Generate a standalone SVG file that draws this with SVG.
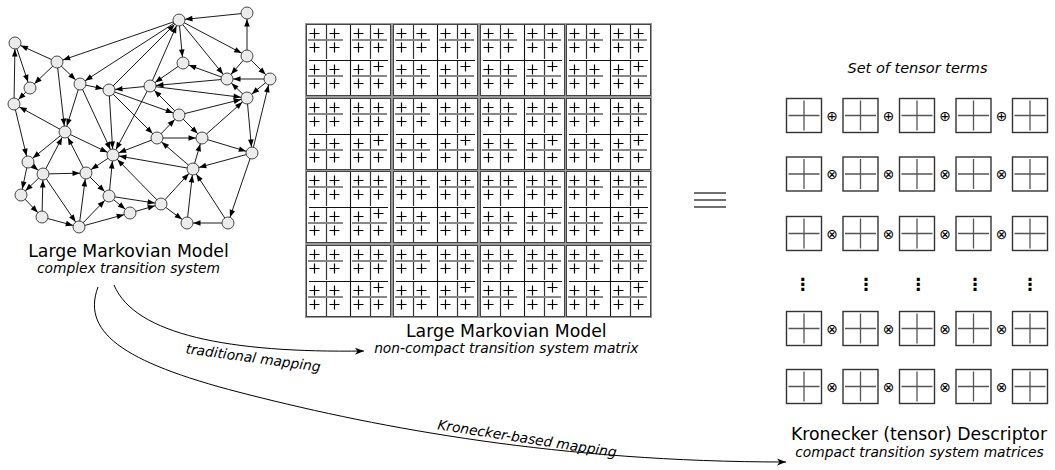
<svg xmlns="http://www.w3.org/2000/svg" width="1055" height="470" viewBox="0 0 1055 470">
<style>
.e{stroke:#000;stroke-width:0.9;fill:none;marker-end:url(#ah)}
.c{stroke:#000;stroke-width:1;fill:none;marker-end:url(#ab)}
.n{fill:#ebebeb;stroke:#333;stroke-width:0.9}
.t{font-family:"DejaVu Sans",sans-serif;font-size:17.3px;fill:#000;text-anchor:middle}
.i{font-family:"DejaVu Sans",sans-serif;font-style:italic;font-size:13.8px;fill:#000;text-anchor:middle}
.op{font-family:"DejaVu Sans",sans-serif;font-size:14px;text-anchor:middle;fill:#000}
.dt{font-family:"DejaVu Sans",sans-serif;font-size:17px;text-anchor:middle;fill:#000;font-weight:bold}
.mv{stroke:#333;stroke-width:1.2}
.mh{stroke:#888;stroke-width:2}
.pl{stroke:#000;stroke-width:1.2;fill:none}
.bx{fill:#fff;stroke:#333;stroke-width:1.4}
.cx{stroke:#555;stroke-width:1.3}
</style>
<defs>
<marker id="ah" markerUnits="userSpaceOnUse" viewBox="0 0 20 10" refX="20" refY="5" markerWidth="20" markerHeight="10" orient="auto"><path d="M13.8,5 L6.5,2.2 L6.5,7.8 Z" fill="#000"/></marker>
<marker id="ab" markerUnits="userSpaceOnUse" viewBox="-10 -5 12 10" refX="0" refY="0" markerWidth="12" markerHeight="10" orient="auto"><path d="M0,0 L-9,-3.5 L-6.5,0 L-9,3.5 Z" fill="#000"/></marker>
<g id="sb">
<line class="mv" x1="20.5" y1="1" x2="20.5" y2="35"/>
<line class="mh" x1="2" y1="16" x2="37" y2="16"/>
<path class="pl" d="M3.5,9.5h10M8.5,4.5v10M23.5,9.5h10M28.5,4.5v10M3.5,23.5h10M8.5,18.5v10M23.5,23.5h10M28.5,18.5v10"/>
</g>
<g id="sbB">
<line class="mv" x1="20.5" y1="1" x2="20.5" y2="35"/>
<line class="mh" x1="2" y1="16" x2="37" y2="16"/>
<path class="pl" d="M3.5,9.5h10M8.5,4.5v10M23.5,6.5h10M28.5,1.5v10M3.5,23.5h10M8.5,18.5v10M23.5,23.5h10M28.5,18.5v10"/>
</g>
<g id="bk">
<rect x="0.5" y="0.5" width="84" height="71" fill="#fff" stroke="#444" stroke-width="1"/>
<line x1="44.5" y1="1" x2="44.5" y2="71" stroke="#111" stroke-width="1.1"/>
<line x1="3" y1="36.5" x2="82" y2="36.5" stroke="#111" stroke-width="1.1"/>
<use href="#sb" x="0" y="0"/>
<use href="#sb" x="44" y="0"/>
<use href="#sb" x="0" y="36"/>
<use href="#sbB" x="44" y="36"/>
</g>
<g id="tb"><rect class="bx" x="0" y="0" width="35" height="34"/><path class="cx" d="M2,17H33M17.5,2V32"/></g>
</defs>
<rect width="1055" height="470" fill="#fff"/>

<g id="connectors">
<line class="e" x1="179" y1="20" x2="57" y2="62"/>
<line class="e" x1="179" y1="20" x2="80" y2="84"/>
<line class="e" x1="109" y1="90" x2="179" y2="20"/>
<line class="e" x1="150" y1="86" x2="179" y2="20"/>
<line class="e" x1="247" y1="13" x2="179" y2="20"/>
<line class="e" x1="247" y1="56" x2="247" y2="13"/>
<line class="e" x1="179" y1="20" x2="183" y2="63"/>
<line class="e" x1="179" y1="20" x2="247" y2="56"/>
<line class="e" x1="179" y1="20" x2="227" y2="79"/>
<line class="e" x1="247" y1="56" x2="227" y2="79"/>
<line class="e" x1="247" y1="56" x2="270" y2="79"/>
<line class="e" x1="227" y1="79" x2="183" y2="63"/>
<line class="e" x1="270" y1="79" x2="227" y2="79"/>
<line class="e" x1="227" y1="79" x2="150" y2="86"/>
<line class="e" x1="183" y1="63" x2="150" y2="86"/>
<line class="e" x1="150" y1="86" x2="247" y2="98"/>
<line class="e" x1="270" y1="79" x2="247" y2="98"/>
<line class="e" x1="247" y1="98" x2="227" y2="79"/>
<line class="e" x1="179" y1="115" x2="150" y2="86"/>
<line class="e" x1="179" y1="115" x2="247" y2="98"/>
<line class="e" x1="252" y1="153" x2="270" y2="79"/>
<line class="e" x1="247" y1="98" x2="252" y2="153"/>
<line class="e" x1="202" y1="138" x2="247" y2="98"/>
<line class="e" x1="57" y1="62" x2="15" y2="43"/>
<line class="e" x1="15" y1="43" x2="30" y2="88"/>
<line class="e" x1="14" y1="104" x2="15" y2="43"/>
<line class="e" x1="57" y1="62" x2="30" y2="88"/>
<line class="e" x1="57" y1="62" x2="80" y2="84"/>
<line class="e" x1="57" y1="62" x2="65" y2="132"/>
<line class="e" x1="80" y1="84" x2="65" y2="132"/>
<line class="e" x1="30" y1="88" x2="14" y2="104"/>
<line class="e" x1="80" y1="84" x2="109" y2="90"/>
<line class="e" x1="150" y1="86" x2="109" y2="90"/>
<line class="e" x1="109" y1="90" x2="179" y2="115"/>
<line class="e" x1="109" y1="90" x2="157" y2="138"/>
<line class="e" x1="65" y1="132" x2="14" y2="104"/>
<line class="e" x1="14" y1="104" x2="28" y2="162"/>
<line class="e" x1="80" y1="84" x2="113" y2="155"/>
<line class="e" x1="109" y1="90" x2="113" y2="155"/>
<line class="e" x1="150" y1="86" x2="113" y2="155"/>
<line class="e" x1="157" y1="138" x2="179" y2="115"/>
<line class="e" x1="179" y1="115" x2="202" y2="138"/>
<line class="e" x1="157" y1="138" x2="202" y2="138"/>
<line class="e" x1="202" y1="138" x2="252" y2="153"/>
<line class="e" x1="252" y1="153" x2="193" y2="169"/>
<line class="e" x1="193" y1="169" x2="202" y2="138"/>
<line class="e" x1="193" y1="169" x2="157" y2="138"/>
<line class="e" x1="252" y1="153" x2="228" y2="223"/>
<line class="e" x1="228" y1="223" x2="187" y2="223"/>
<line class="e" x1="228" y1="223" x2="193" y2="169"/>
<line class="e" x1="187" y1="223" x2="193" y2="169"/>
<line class="e" x1="161" y1="204" x2="193" y2="169"/>
<line class="e" x1="161" y1="204" x2="187" y2="223"/>
<line class="e" x1="193" y1="169" x2="113" y2="155"/>
<line class="e" x1="157" y1="138" x2="113" y2="155"/>
<line class="e" x1="161" y1="204" x2="113" y2="155"/>
<line class="e" x1="65" y1="132" x2="28" y2="162"/>
<line class="e" x1="65" y1="132" x2="113" y2="155"/>
<line class="e" x1="43" y1="174" x2="65" y2="132"/>
<line class="e" x1="86" y1="173" x2="65" y2="132"/>
<line class="e" x1="113" y1="155" x2="86" y2="173"/>
<line class="e" x1="43" y1="174" x2="86" y2="173"/>
<line class="e" x1="28" y1="162" x2="43" y2="174"/>
<line class="e" x1="28" y1="162" x2="21" y2="195"/>
<line class="e" x1="43" y1="174" x2="21" y2="195"/>
<line class="e" x1="42" y1="217" x2="43" y2="174"/>
<line class="e" x1="43" y1="174" x2="79" y2="227"/>
<line class="e" x1="21" y1="195" x2="42" y2="217"/>
<line class="e" x1="42" y1="217" x2="79" y2="227"/>
<line class="e" x1="79" y1="227" x2="86" y2="173"/>
<line class="e" x1="86" y1="173" x2="109" y2="196"/>
<line class="e" x1="109" y1="196" x2="113" y2="155"/>
<line class="e" x1="109" y1="196" x2="130" y2="213"/>
<line class="e" x1="79" y1="227" x2="109" y2="196"/>
<line class="e" x1="79" y1="227" x2="130" y2="213"/>
<line class="e" x1="109" y1="196" x2="161" y2="204"/>
<line class="e" x1="130" y1="213" x2="161" y2="204"/>
<path class="c" d="M114,285 C135,335 230,353 364,351"/>
<path class="c" d="M98,287 C80,335 130,365 250,395 C380,428 560,462 786,462"/>
</g>

<g id="nodes">
<g id="n-A"><circle class="n" cx="179" cy="20" r="6"/></g>
<g id="n-B"><circle class="n" cx="247" cy="13" r="6"/></g>
<g id="n-C"><circle class="n" cx="15" cy="43" r="6"/></g>
<g id="n-D"><circle class="n" cx="57" cy="62" r="6"/></g>
<g id="n-E"><circle class="n" cx="183" cy="63" r="6"/></g>
<g id="n-F"><circle class="n" cx="247" cy="56" r="6"/></g>
<g id="n-G"><circle class="n" cx="30" cy="88" r="6"/></g>
<g id="n-H"><circle class="n" cx="80" cy="84" r="6"/></g>
<g id="n-I"><circle class="n" cx="109" cy="90" r="6"/></g>
<g id="n-J"><circle class="n" cx="150" cy="86" r="6"/></g>
<g id="n-K"><circle class="n" cx="227" cy="79" r="6"/></g>
<g id="n-L"><circle class="n" cx="270" cy="79" r="6"/></g>
<g id="n-M"><circle class="n" cx="14" cy="104" r="6"/></g>
<g id="n-N"><circle class="n" cx="247" cy="98" r="6"/></g>
<g id="n-O"><circle class="n" cx="179" cy="115" r="6"/></g>
<g id="n-P"><circle class="n" cx="65" cy="132" r="6"/></g>
<g id="n-Q"><circle class="n" cx="113" cy="155" r="6"/></g>
<g id="n-R"><circle class="n" cx="157" cy="138" r="6"/></g>
<g id="n-S"><circle class="n" cx="202" cy="138" r="6"/></g>
<g id="n-T"><circle class="n" cx="252" cy="153" r="6"/></g>
<g id="n-U"><circle class="n" cx="28" cy="162" r="6"/></g>
<g id="n-V"><circle class="n" cx="43" cy="174" r="6"/></g>
<g id="n-W"><circle class="n" cx="86" cy="173" r="6"/></g>
<g id="n-X"><circle class="n" cx="193" cy="169" r="6"/></g>
<g id="n-Y"><circle class="n" cx="21" cy="195" r="6"/></g>
<g id="n-Z"><circle class="n" cx="109" cy="196" r="6"/></g>
<g id="n-AA"><circle class="n" cx="161" cy="204" r="6"/></g>
<g id="n-AB"><circle class="n" cx="130" cy="213" r="6"/></g>
<g id="n-AC"><circle class="n" cx="42" cy="217" r="6"/></g>
<g id="n-AD"><circle class="n" cx="79" cy="227" r="6"/></g>
<g id="n-AE"><circle class="n" cx="187" cy="223" r="6"/></g>
<g id="n-AF"><circle class="n" cx="228" cy="223" r="6"/></g>
</g>

<g id="graph-label">
<text class="t" x="128.5" y="257">Large Markovian Model</text>
<text class="i" x="128.5" y="273">complex transition system</text>
</g>

<g id="matrix">
<rect x="305" y="23" width="347" height="295" fill="#999"/>
<use href="#bk" x="306" y="24"/><use href="#bk" x="393" y="24"/><use href="#bk" x="480" y="24"/><use href="#bk" x="566" y="24"/>
<use href="#bk" x="306" y="98"/><use href="#bk" x="393" y="98"/><use href="#bk" x="480" y="98"/><use href="#bk" x="566" y="98"/>
<use href="#bk" x="306" y="171"/><use href="#bk" x="393" y="171"/><use href="#bk" x="480" y="171"/><use href="#bk" x="566" y="171"/>
<use href="#bk" x="306" y="245"/><use href="#bk" x="393" y="245"/><use href="#bk" x="480" y="245"/><use href="#bk" x="566" y="245"/>
<text class="t" x="506.3" y="336.7">Large Markovian Model</text>
<text class="i" x="506.3" y="352.7">non-compact transition system matrix</text>
</g>

<g id="mapping-labels">
<text class="i" transform="translate(252.5,362.5) rotate(7.8)">traditional mapping</text>
<text class="i" transform="translate(526.4,443.2) rotate(8.9)">Kronecker-based mapping</text>
</g>

<g id="equiv" stroke="#222" stroke-width="1.3">
<line x1="694" y1="193" x2="726" y2="193"/>
<line x1="694" y1="200" x2="726" y2="200"/>
<line x1="694" y1="207" x2="726" y2="207"/>
</g>

<g id="tensor">
<text class="i" x="917.5" y="73" style="font-size:14.5px">Set of tensor terms</text>
<g id="row1">
<use href="#tb" x="786.5" y="98.5"/><use href="#tb" x="843" y="98.5"/><use href="#tb" x="899.5" y="98.5"/><use href="#tb" x="956" y="98.5"/><use href="#tb" x="1012.5" y="98.5"/>
<text class="op" x="832" y="120.5">⊕</text><text class="op" x="888.5" y="120.5">⊕</text><text class="op" x="945" y="120.5">⊕</text><text class="op" x="1001.5" y="120.5">⊕</text>
</g>
<g id="row2">
<use href="#tb" x="786.5" y="157"/><use href="#tb" x="843" y="157"/><use href="#tb" x="899.5" y="157"/><use href="#tb" x="956" y="157"/><use href="#tb" x="1012.5" y="157"/>
<text class="op" x="832" y="179">⊗</text><text class="op" x="888.5" y="179">⊗</text><text class="op" x="945" y="179">⊗</text><text class="op" x="1001.5" y="179">⊗</text>
</g>
<g id="row3">
<use href="#tb" x="786.5" y="216.5"/><use href="#tb" x="843" y="216.5"/><use href="#tb" x="899.5" y="216.5"/><use href="#tb" x="956" y="216.5"/><use href="#tb" x="1012.5" y="216.5"/>
<text class="op" x="832" y="238.5">⊗</text><text class="op" x="888.5" y="238.5">⊗</text><text class="op" x="945" y="238.5">⊗</text><text class="op" x="1001.5" y="238.5">⊗</text>
</g>
<g id="dots">
<text class="dt" x="802.7" y="290">⋮</text><text class="dt" x="866" y="290">⋮</text><text class="dt" x="918.3" y="290">⋮</text><text class="dt" x="975" y="290">⋮</text><text class="dt" x="1030" y="290">⋮</text>
</g>
<g id="row5">
<use href="#tb" x="786.5" y="311.5"/><use href="#tb" x="843" y="311.5"/><use href="#tb" x="899.5" y="311.5"/><use href="#tb" x="956" y="311.5"/><use href="#tb" x="1012.5" y="311.5"/>
<text class="op" x="832" y="333.5">⊗</text><text class="op" x="888.5" y="333.5">⊗</text><text class="op" x="945" y="333.5">⊗</text><text class="op" x="1001.5" y="333.5">⊗</text>
</g>
<g id="row6">
<use href="#tb" x="786.5" y="369.5"/><use href="#tb" x="843" y="369.5"/><use href="#tb" x="899.5" y="369.5"/><use href="#tb" x="956" y="369.5"/><use href="#tb" x="1012.5" y="369.5"/>
<text class="op" x="832" y="391.5">⊗</text><text class="op" x="888.5" y="391.5">⊗</text><text class="op" x="945" y="391.5">⊗</text><text class="op" x="1001.5" y="391.5">⊗</text>
</g>
<text class="t" x="919" y="440">Kronecker (tensor) Descriptor</text>
<text class="i" x="919.5" y="457">compact transition system matrices</text>
</g>
</svg>
